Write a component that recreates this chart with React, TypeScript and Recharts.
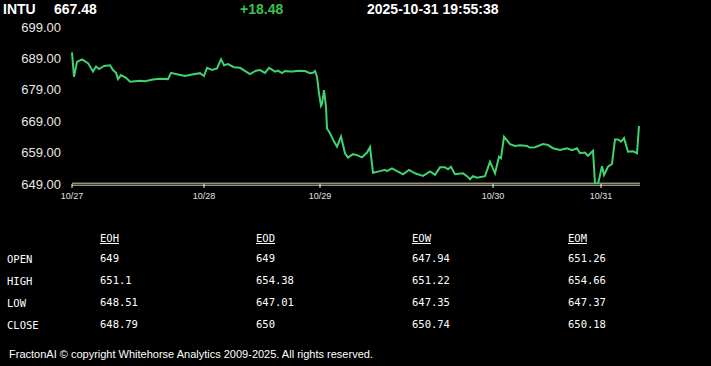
import React from "react";
import { LineChart, Line, XAxis, YAxis, ReferenceLine } from "recharts";

// time positions (trading-time units) and prices
const times = [0, 2, 5, 10, 16, 21, 24, 27, 32, 38, 41, 44, 46, 49, 54, 58, 68, 73, 81, 88, 96, 99, 106, 113, 120, 128, 132, 135, 140, 145, 149, 152, 156, 162, 168, 174, 178, 184, 188, 193, 197, 203, 206, 210, 213, 218, 221, 226, 233, 238, 241, 243, 245, 247, 249, 250, 252, 254, 255, 258, 262, 265, 269, 273, 276, 281, 285, 290, 295, 298, 301, 308, 313, 315, 320, 331, 337, 343, 351, 358, 363, 368, 373, 376, 379, 383, 391, 395, 398, 401, 405, 413, 418, 423, 427, 429, 432, 438, 443, 448, 455, 458, 463, 471, 476, 481, 488, 495, 500, 505, 508, 513, 516, 521, 523, 526, 530, 532, 536, 540, 543, 546, 549, 552, 556, 561, 565, 567];
const prices = [690.9, 683.1, 687.9, 688.7, 687.5, 684.8, 686.4, 685.6, 686.6, 686.8, 685.3, 684.4, 682.4, 683.7, 682.8, 681.6, 681.9, 681.7, 682.3, 682.5, 682.4, 684.4, 683.9, 683.4, 683.9, 684.3, 683.4, 686.0, 685.3, 685.8, 688.7, 686.8, 687.2, 686.2, 686.0, 684.8, 684.0, 685.1, 685.3, 684.4, 686.0, 684.8, 685.1, 684.3, 685.0, 684.8, 684.8, 685.1, 685.0, 684.3, 684.4, 685.0, 683.2, 677.9, 673.9, 674.5, 678.9, 673.6, 666.7, 665.2, 662.5, 660.9, 664.1, 658.8, 657.4, 658.5, 658.2, 657.5, 659.0, 660.7, 652.6, 653.1, 653.5, 653.1, 654.0, 652.1, 653.5, 652.4, 651.6, 653.0, 651.9, 654.3, 654.3, 653.7, 654.5, 652.1, 652.4, 651.5, 650.5, 651.5, 651.0, 651.5, 656.1, 652.4, 657.7, 657.2, 664.1, 661.7, 661.1, 661.3, 661.1, 660.6, 660.7, 661.7, 661.4, 660.4, 659.8, 660.4, 659.8, 660.4, 658.8, 659.0, 658.0, 659.6, 649.2, 649.0, 654.7, 651.9, 654.5, 655.4, 663.2, 663.2, 662.5, 663.6, 659.3, 659.4, 658.8, 667.48];

const xTickValues = [0, 132, 248, 421, 529];
const xTickLabels = ["10/27", "10/28", "10/29", "10/30", "10/31"];
const yTickValues = [649, 659, 669, 679, 689, 699];

const columns = ["EOH", "EOD", "EOW", "EOM"];
const rowLabels = ["OPEN", "HIGH", "LOW", "CLOSE"];
const eohValues = ["649", "651.1", "648.51", "648.79"];
const eodValues = ["649", "654.38", "647.01", "650"];
const eowValues = ["647.94", "651.22", "647.35", "650.74"];
const eomValues = ["651.26", "654.66", "647.37", "650.18"];

const symbol = "INTU";
const lastPrice = "667.48";
const change = "+18.48";
const stamp = "2025-10-31 19:55:38";

const data = times.map((t, i) => ({ t, price: prices[i] }));
const columnValues = [eohValues, eodValues, eowValues, eomValues];
const colX = [100, 256, 412, 568];
const rowY = [252, 274, 296, 318];

const DoubleAxis = (props: any) => {
  const { x1, x2, y1 } = props;
  return (
    <g>
      <line x1={x1} x2={x2} y1={y1 - 0.8} y2={y1 - 0.8} stroke="#d6d3b0" strokeWidth={1} />
      <line x1={x1} x2={x2} y1={y1 + 1.2} y2={y1 + 1.2} stroke="#d6d3b0" strokeWidth={1} />
    </g>
  );
};

const headerStyle: React.CSSProperties = {
  position: "absolute",
  top: 1,
  fontFamily: "'Liberation Sans', Arial, sans-serif",
  fontWeight: "bold",
  fontSize: 14,
  color: "#ffffff",
  whiteSpace: "nowrap",
};

const mono: React.CSSProperties = {
  position: "absolute",
  fontFamily: "'DejaVu Sans Mono', 'Liberation Mono', monospace",
  fontSize: 10.5,
  color: "#ffffff",
  whiteSpace: "nowrap",
  lineHeight: "14px",
};

export default function App() {
  return (
    <div
      style={{
        position: "absolute",
        left: 0,
        top: 0,
        width: 711,
        height: 366,
        background: "#000000",
        overflow: "hidden",
      }}
    >
      <LineChart
        width={711}
        height={220}
        data={data}
        margin={{ top: 27, right: 71, bottom: 6, left: 0 }}
        style={{ position: "absolute", left: 0, top: 0 }}
      >
        <XAxis
          dataKey="t"
          type="number"
          domain={[0, 568]}
          ticks={xTickValues}
          tickFormatter={(v: number) => xTickLabels[xTickValues.indexOf(v)] ?? ""}
          axisLine={false}
          tickLine={{ stroke: "#ffffff", strokeWidth: 1 }}
          tickSize={4}
          tickMargin={5}
          height={30}
          interval={0}
          tick={{ fill: "#e0e0e0", fontSize: 9, fontFamily: "'Liberation Sans', Arial, sans-serif" }}
        />
        <YAxis
          type="number"
          domain={[649, 699]}
          ticks={yTickValues}
          allowDataOverflow
          tickFormatter={(v: number) => v.toFixed(2)}
          axisLine={false}
          tickLine={false}
          tickSize={6}
          tickMargin={5}
          width={72}
          interval={0}
          tick={{ fill: "#e6e6e6", fontSize: 13, fontFamily: "'Liberation Sans', Arial, sans-serif" }}
        />
        <ReferenceLine y={649} shape={DoubleAxis} ifOverflow="visible" />
        <Line
          type="linear"
          dataKey="price"
          stroke="#3fd271"
          strokeWidth={2}
          dot={false}
          isAnimationActive={false}
        />
      </LineChart>

      <div style={{ ...headerStyle, left: 3 }}>{symbol}</div>
      <div style={{ ...headerStyle, left: 54 }}>{lastPrice}</div>
      <div style={{ ...headerStyle, left: 240, color: "#3cc24a" }}>{change}</div>
      <div style={{ ...headerStyle, left: 367 }}>{stamp}</div>

      {columns.map((c, i) => (
        <div key={c} style={{ ...mono, left: colX[i], top: 231, textDecoration: "underline" }}>
          {c}
        </div>
      ))}
      {rowLabels.map((r, j) => (
        <div key={r} style={{ ...mono, left: 7, top: rowY[j] }}>
          {r}
        </div>
      ))}
      {columnValues.map((vals, i) =>
        vals.map((v, j) => (
          <div key={`${i}-${j}`} style={{ ...mono, left: colX[i], top: rowY[j] - 1 }}>
            {v}
          </div>
        ))
      )}

      <div
        style={{
          position: "absolute",
          left: 9,
          top: 348,
          fontFamily: "'Liberation Sans', Arial, sans-serif",
          fontSize: 11,
          letterSpacing: 0,
          color: "#ffffff",
          whiteSpace: "nowrap",
          lineHeight: "13px",
        }}
      >
        FractonAI © copyright Whitehorse Analytics 2009-2025. All rights reserved.
      </div>
    </div>
  );
}
